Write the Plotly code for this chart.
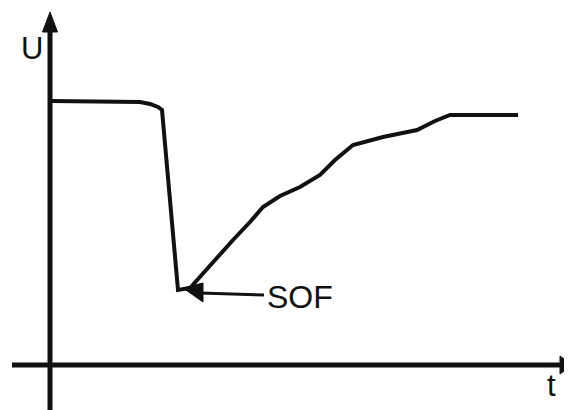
import plotly.graph_objects as go

# Curve data (time t, voltage U) in arbitrary units
t_vals = [0.2, 5.0, 9.0, 10.0, 10.8, 11.2, 12.8, 14.0, 16.0, 18.3, 20.0, 21.3, 23.0, 25.0, 27.0, 28.5, 30.3, 33.3, 36.7, 38.5, 40.0, 46.8]
u_vals = [26.4, 26.4, 26.3, 26.1, 25.8, 25.5, 7.5, 7.7, 10.0, 12.5, 14.3, 15.8, 16.9, 17.8, 19.0, 20.5, 22.0, 22.8, 23.5, 24.4, 25.0, 25.0]

# Annotated point
sof_label = "SOF"
sof_t = 13.3
sof_u = 7.7
sof_text_t = 21.5
sof_text_u = 6.8

x_label = "t"
y_label = "U"

X_MIN, X_MAX = -4.2, 53.0
Y_MIN, Y_MAX = -5.3, 35.7

fig = go.Figure()
fig.add_trace(go.Scatter(x=t_vals, y=u_vals, mode="lines",
                         line=dict(color="#111111", width=4),
                         hoverinfo="skip", showlegend=False))

black = "#111111"
shapes = [
    # y axis
    dict(type="line", x0=0, x1=0, y0=Y_MIN, y1=33.5, line=dict(color=black, width=5)),
    dict(type="path", path="M -0.75 33.3 L 0 35.3 L 0.75 33.3 Z", fillcolor=black, line=dict(color=black, width=1)),
    # x axis
    dict(type="line", x0=-3.8, x1=51.0, y0=0, y1=0, line=dict(color=black, width=5)),
    dict(type="path", path="M 51.0 0.9 L 52.2 0 L 51.0 -0.9 Z", fillcolor=black, line=dict(color=black, width=1)),
    # SOF pointer
    dict(type="line", x0=sof_text_t - 0.1, x1=15.0, y0=7.0, y1=7.2, line=dict(color=black, width=3)),
    dict(type="path", path="M 15.3 8.2 L 13.3 7.7 L 15.3 6.3 Z", fillcolor=black, line=dict(color=black, width=1)),
]

annotations = [
    dict(x=sof_text_t, y=sof_text_u, text=sof_label, showarrow=False, xanchor="left", yanchor="middle",
         font=dict(family="Liberation Sans, Arial, sans-serif", size=32, color=black)),
    dict(x=-1.8, y=31.7, text=y_label, showarrow=False, xanchor="center", yanchor="middle",
         font=dict(family="Liberation Sans, Arial, sans-serif", size=31, color=black)),
    dict(x=50.1, y=-2.0, text=x_label, showarrow=False, xanchor="center", yanchor="middle",
         font=dict(family="Liberation Sans, Arial, sans-serif", size=31, color=black)),
]

fig.update_layout(
    width=572, height=410,
    margin=dict(l=0, r=0, t=0, b=0),
    paper_bgcolor="white", plot_bgcolor="white",
    xaxis=dict(range=[X_MIN, X_MAX], visible=False, fixedrange=True),
    yaxis=dict(range=[Y_MIN, Y_MAX], visible=False, fixedrange=True),
    shapes=shapes, annotations=annotations,
)

fig.write_html("out.html")
